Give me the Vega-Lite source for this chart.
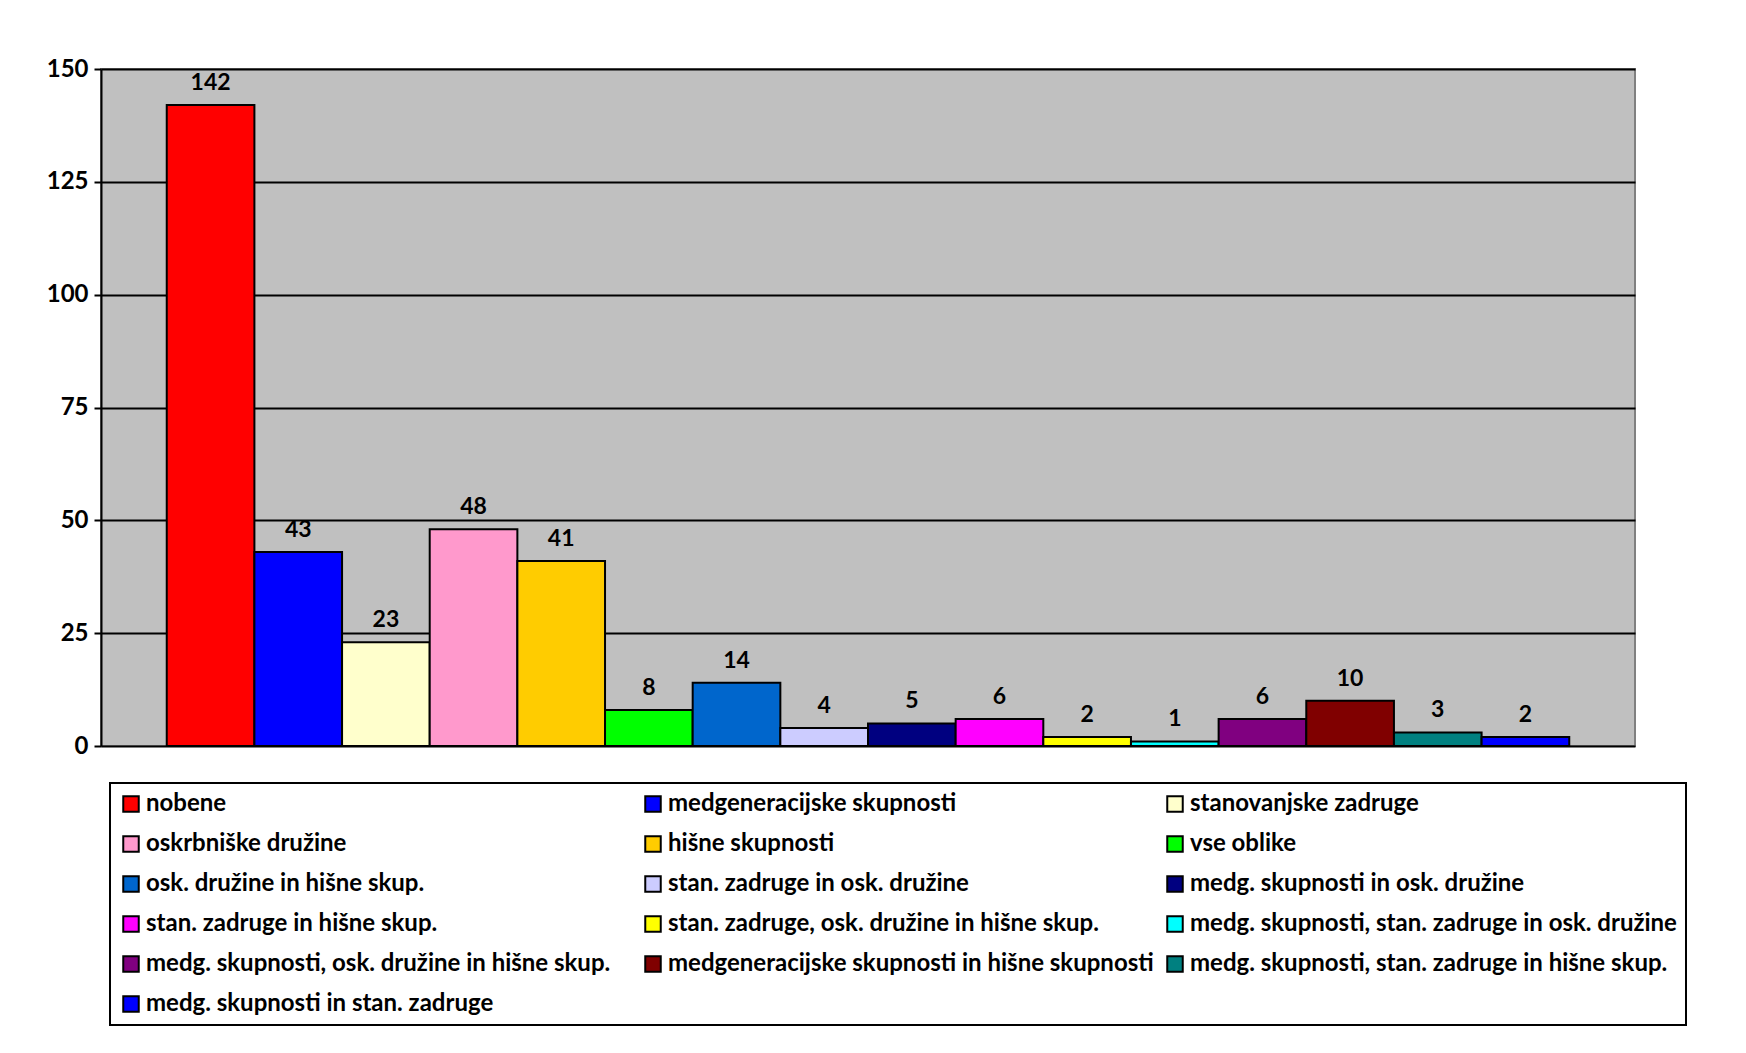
{
  "$schema": "https://vega.github.io/schema/vega-lite/v6.json",
  "autosize": {"type": "none"},
  "width": 1534,
  "height": 677,
  "padding": {"left": 101, "top": 69, "right": 111, "bottom": 307},
  "background": "white",
  "data": {
    "values": [
      {"i": 1, "oblika": "nobene", "n": 142},
      {"i": 2, "oblika": "medgeneracijske skupnosti", "n": 43},
      {"i": 3, "oblika": "stanovanjske zadruge", "n": 23},
      {"i": 4, "oblika": "oskrbniške družine", "n": 48},
      {"i": 5, "oblika": "hišne skupnosti", "n": 41},
      {"i": 6, "oblika": "vse oblike", "n": 8},
      {"i": 7, "oblika": "osk. družine in hišne skup.", "n": 14},
      {"i": 8, "oblika": "stan. zadruge in osk. družine", "n": 4},
      {"i": 9, "oblika": "medg. skupnosti in osk. družine", "n": 5},
      {"i": 10, "oblika": "stan. zadruge in hišne skup.", "n": 6},
      {"i": 11, "oblika": "stan. zadruge, osk. družine in hišne skup.", "n": 2},
      {"i": 12, "oblika": "medg. skupnosti, stan. zadruge in osk. družine", "n": 1},
      {"i": 13, "oblika": "medg. skupnosti, osk. družine in hišne skup.", "n": 6},
      {"i": 14, "oblika": "medgeneracijske skupnosti in hišne skupnosti", "n": 10},
      {"i": 15, "oblika": "medg. skupnosti, stan. zadruge in hišne skup.", "n": 3},
      {"i": 16, "oblika": "medg. skupnosti in stan. zadruge", "n": 2}
    ]
  },
  "encoding": {
    "x": {
      "field": "oblika",
      "type": "nominal",
      "sort": {"field": "i"},
      "scale": {"paddingInner": 0, "paddingOuter": 0.75},
      "axis": null
    },
    "y": {
      "field": "n",
      "type": "quantitative",
      "scale": {"domain": [0, 150], "nice": false},
      "axis": {
        "title": null,
        "values": [0, 25, 50, 75, 100, 125, 150],
        "domainColor": "black",
        "domainWidth": 2,
        "tickColor": "black",
        "tickWidth": 2,
        "tickSize": 7,
        "labelFont": "Lato",
        "labelFontWeight": "bold",
        "labelFontSize": 24,
        "labelColor": "black",
        "labelPadding": 6,
        "grid": true,
        "gridColor": "black",
        "gridWidth": 2
      }
    }
  },
  "layer": [
    {
      "mark": {"type": "bar", "stroke": "black", "strokeWidth": 2},
      "encoding": {
        "color": {
          "field": "oblika",
          "type": "nominal",
          "scale": {
            "domain": [
              "nobene",
              "medgeneracijske skupnosti",
              "stanovanjske zadruge",
              "oskrbniške družine",
              "hišne skupnosti",
              "vse oblike",
              "osk. družine in hišne skup.",
              "stan. zadruge in osk. družine",
              "medg. skupnosti in osk. družine",
              "stan. zadruge in hišne skup.",
              "stan. zadruge, osk. družine in hišne skup.",
              "medg. skupnosti, stan. zadruge in osk. družine",
              "medg. skupnosti, osk. družine in hišne skup.",
              "medgeneracijske skupnosti in hišne skupnosti",
              "medg. skupnosti, stan. zadruge in hišne skup.",
              "medg. skupnosti in stan. zadruge"
            ],
            "range": [
              "#FF0000", "#0000FF", "#FFFFCC", "#FF99CC", "#FFCC00", "#00FF00",
              "#0066CC", "#CCCCFF", "#000080", "#FF00FF", "#FFFF00", "#00FFFF",
              "#800080", "#800000", "#008080", "#0000FF"
            ]
          },
          "legend": {
            "title": null,
            "orient": "none",
            "direction": "horizontal",
            "legendX": 9,
            "legendY": 714,
            "columns": 3,
            "gridAlign": "all",
            "columnPadding": 8,
            "rowPadding": 16,
            "padding": 9,
            "strokeColor": "black",
            "fillColor": "white",
            "symbolType": "square",
            "symbolSize": 240,
            "symbolStrokeColor": "black",
            "symbolStrokeWidth": 2,
            "symbolOpacity": 1,
            "labelFont": "Lato",
            "labelFontWeight": "bold",
            "labelFontSize": 24,
            "labelColor": "black",
            "labelOffset": 3,
            "labelLimit": 600
          }
        }
      }
    },
    {
      "mark": {
        "type": "text",
        "baseline": "bottom",
        "dy": -10,
        "font": "Lato",
        "fontWeight": "bold",
        "fontSize": 23,
        "color": "black"
      },
      "encoding": {"text": {"field": "n", "type": "quantitative"}}
    }
  ],
  "config": {
    "view": {"fill": "#C0C0C0", "stroke": "#808080", "strokeWidth": 2},
    "legend": {"strokeWidth": 2}
  }
}
